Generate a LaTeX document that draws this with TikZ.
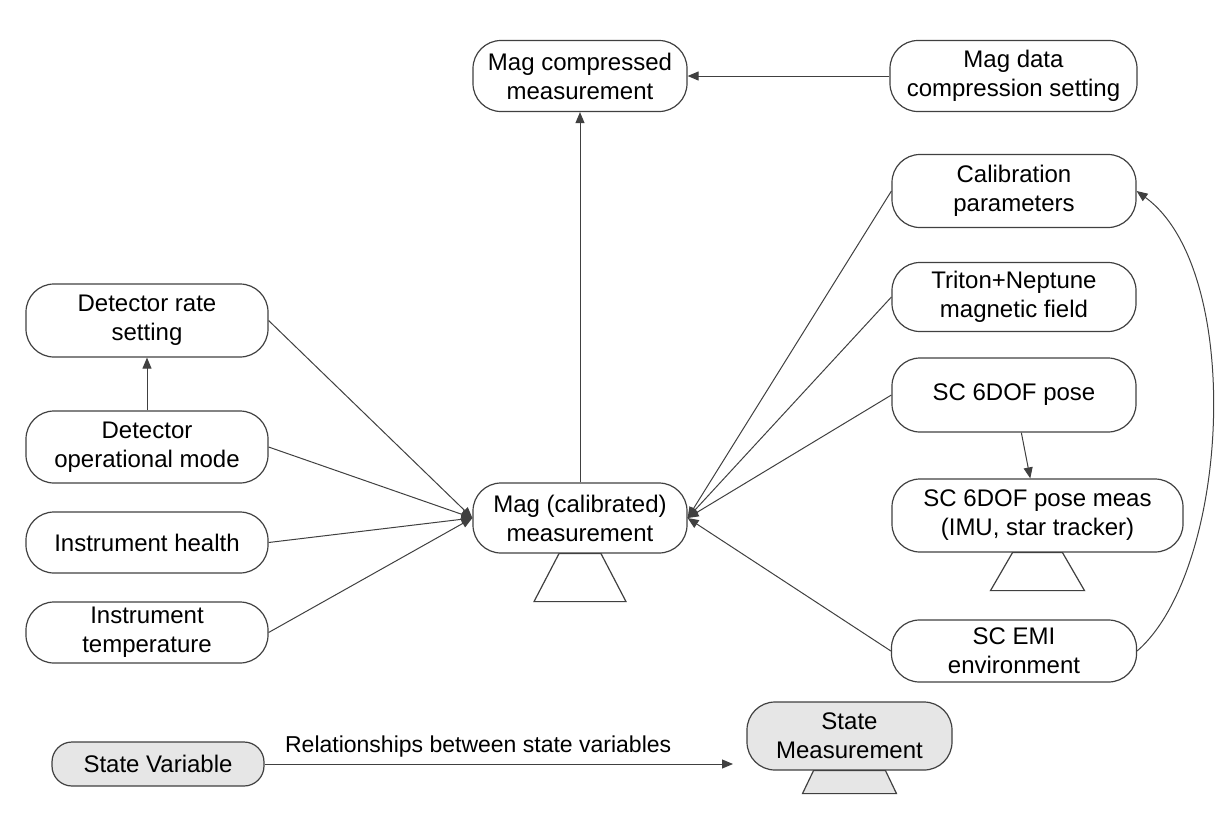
\documentclass[tikz,border=0pt]{standalone}
\usepackage{fontspec}
\setmainfont{Liberation Sans}
\usetikzlibrary{arrows.meta}

\definecolor{edgegray}{HTML}{404040}
\definecolor{boxgray}{HTML}{E6E6E6}

\begin{document}
\begin{tikzpicture}[x=0.5pt, y=-0.5pt,
    var/.style={draw=edgegray, line width=0.6pt, rounded corners=14pt, align=center,
      inner sep=2pt, font=\fontsize{12pt}{14.5pt}\selectfont},
    rel/.style={draw=edgegray, line width=0.5pt, -{Triangle[length=5.5pt,width=4.5pt]}},
    stand/.style={draw=edgegray, line width=0.6pt}]
  \useasboundingbox (0,0) rectangle (1228,816);

  \node[var, minimum width=107pt, minimum height=35.5pt] (magcomp) at (580, 76) {Mag compressed\\measurement};
  \node[var, minimum width=123.5pt, minimum height=35.5pt] (magdata) at (1013.5, 76) {Mag data\\compression setting};
  \node[var, minimum width=122pt, minimum height=36.5pt] (calib) at (1014, 191) {Calibration\\parameters};
  \node[var, minimum width=122pt, minimum height=34.5pt] (triton) at (1014, 297) {Triton+Neptune\\magnetic field};
  \node[var, minimum width=122pt, minimum height=37pt] (scpose) at (1014, 395) {SC 6DOF pose};
  \node[var, minimum width=145.5pt, minimum height=36.5pt] (scmeas) at (1037.5, 515.5) {SC 6DOF pose meas\\(IMU, star tracker)};
  \node[var, minimum width=122.5pt, minimum height=31pt] (scemi) at (1014, 651) {SC EMI\\environment};
  \node[var, minimum width=107pt, minimum height=35pt] (magcal) at (580, 518) {Mag (calibrated)\\measurement};
  \node[var, minimum width=121pt, minimum height=36.5pt] (detrate) at (147, 320.5) {Detector rate\\setting};
  \node[var, minimum width=121pt, minimum height=36pt] (detmode) at (147, 447) {Detector\\operational mode};
  \node[var, minimum width=121pt, minimum height=30.5pt] (insthealth) at (147, 542.5) {Instrument health};
  \node[var, minimum width=121pt, minimum height=30.5pt] (insttemp) at (147, 632.5) {Instrument\\temperature};
  \node[var, fill=boxgray, rounded corners=10pt, minimum width=106pt, minimum height=22pt] (statevar) at (158, 764) {State Variable};
  \node[var, fill=boxgray, minimum width=102.5pt, minimum height=34pt] (statemeas) at (849.5, 736) {State\\Measurement};
  \coordinate (legendend) at (733, 764);

  \draw[stand] (magcal.south) ++(-21,0) -- ++(42,0) -- ++(25,48) -- ++(-92,0) -- cycle;
  \draw[stand] (scmeas.south) ++(-25,0) -- ++(50,0) -- ++(22,38) -- ++(-94,0) -- cycle;
  \draw[stand, fill=boxgray] (statemeas.south) ++(-36,0) -- ++(72,0) -- ++(11,23) -- ++(-94,0) -- cycle;

  \draw[rel] (magcal.north) -- (magcomp.south);
  \draw[rel] (magdata.west) -- (magcomp.east);
  \draw[rel] (detmode.north) -- (detrate.south);
  \draw[rel] (detrate.east) -- (magcal.west);
  \draw[rel] (detmode.east) -- (magcal.west);
  \draw[rel] (insthealth.east) -- (magcal.west);
  \draw[rel] (insttemp.east) -- (magcal.west);
  \draw[rel] (calib.west) -- (magcal.east);
  \draw[rel] (triton.west) -- (magcal.east);
  \draw[rel] (scpose.west) -- (magcal.east);
  \draw[rel] (scemi.west) -- (magcal.east);
  \draw[rel] (scpose) -- (scmeas);
  \draw[rel] (scemi.east) .. controls (1230, 570) and (1245, 270) .. (calib.east);
  \draw[rel] (statevar.east) -- (legendend)
    node[pos=0.456, above, font=\fontsize{11.5pt}{14pt}\selectfont] {Relationships between state variables};
\end{tikzpicture}
\end{document}
